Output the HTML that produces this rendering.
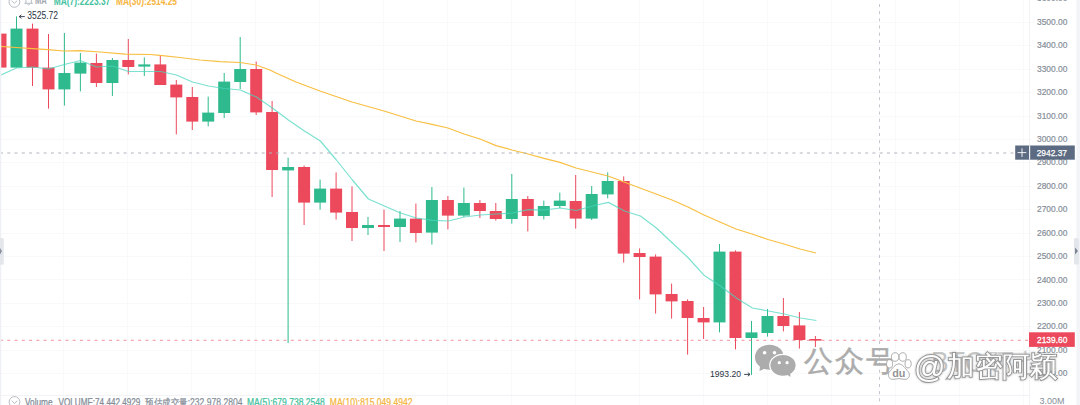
<!DOCTYPE html>
<html><head><meta charset="utf-8"><title>chart</title>
<style>
html,body{margin:0;padding:0;width:1080px;height:405px;overflow:hidden;background:#fff;font-family:"Liberation Sans",sans-serif;}
</style></head><body>
<svg width="1080" height="405" viewBox="0 0 1080 405" style="position:absolute;left:0;top:0" font-family="Liberation Sans, sans-serif"><defs><filter id="sh" x="-10%" y="-30%" width="120%" height="160%"><feGaussianBlur in="SourceAlpha" stdDeviation="1.1"/><feOffset dx="0.2" dy="0.4"/><feComponentTransfer><feFuncA type="linear" slope="0.3"/></feComponentTransfer><feMerge><feMergeNode/><feMergeNode in="SourceGraphic"/></feMerge></filter><filter id="sh2" x="-20%" y="-20%" width="140%" height="140%"><feGaussianBlur in="SourceAlpha" stdDeviation="0.6"/><feComponentTransfer><feFuncA type="linear" slope="0.3"/></feComponentTransfer><feMerge><feMergeNode/><feMergeNode in="SourceGraphic"/></feMerge></filter></defs><rect x="0" y="0" width="1080" height="405" fill="#ffffff"/><line x1="0" y1="-1.12" x2="1032" y2="-1.12" stroke="#f8f9fa" stroke-width="1" shape-rendering="crispEdges"/><line x1="0" y1="22.30" x2="1032" y2="22.30" stroke="#f8f9fa" stroke-width="1" shape-rendering="crispEdges"/><line x1="0" y1="45.73" x2="1032" y2="45.73" stroke="#f8f9fa" stroke-width="1" shape-rendering="crispEdges"/><line x1="0" y1="69.15" x2="1032" y2="69.15" stroke="#f8f9fa" stroke-width="1" shape-rendering="crispEdges"/><line x1="0" y1="92.58" x2="1032" y2="92.58" stroke="#f8f9fa" stroke-width="1" shape-rendering="crispEdges"/><line x1="0" y1="116.00" x2="1032" y2="116.00" stroke="#f8f9fa" stroke-width="1" shape-rendering="crispEdges"/><line x1="0" y1="139.43" x2="1032" y2="139.43" stroke="#f8f9fa" stroke-width="1" shape-rendering="crispEdges"/><line x1="0" y1="162.85" x2="1032" y2="162.85" stroke="#f8f9fa" stroke-width="1" shape-rendering="crispEdges"/><line x1="0" y1="186.28" x2="1032" y2="186.28" stroke="#f8f9fa" stroke-width="1" shape-rendering="crispEdges"/><line x1="0" y1="209.70" x2="1032" y2="209.70" stroke="#f8f9fa" stroke-width="1" shape-rendering="crispEdges"/><line x1="0" y1="233.13" x2="1032" y2="233.13" stroke="#f8f9fa" stroke-width="1" shape-rendering="crispEdges"/><line x1="0" y1="256.55" x2="1032" y2="256.55" stroke="#f8f9fa" stroke-width="1" shape-rendering="crispEdges"/><line x1="0" y1="279.98" x2="1032" y2="279.98" stroke="#f8f9fa" stroke-width="1" shape-rendering="crispEdges"/><line x1="0" y1="303.40" x2="1032" y2="303.40" stroke="#f8f9fa" stroke-width="1" shape-rendering="crispEdges"/><line x1="0" y1="326.83" x2="1032" y2="326.83" stroke="#f8f9fa" stroke-width="1" shape-rendering="crispEdges"/><line x1="0" y1="350.25" x2="1032" y2="350.25" stroke="#f8f9fa" stroke-width="1" shape-rendering="crispEdges"/><line x1="0" y1="373.68" x2="1032" y2="373.68" stroke="#f8f9fa" stroke-width="1" shape-rendering="crispEdges"/><line x1="63.95" y1="0" x2="63.95" y2="405" stroke="#f8f9fa" stroke-width="1" shape-rendering="crispEdges"/><line x1="127.90" y1="0" x2="127.90" y2="405" stroke="#f8f9fa" stroke-width="1" shape-rendering="crispEdges"/><line x1="191.85" y1="0" x2="191.85" y2="405" stroke="#f8f9fa" stroke-width="1" shape-rendering="crispEdges"/><line x1="255.80" y1="0" x2="255.80" y2="405" stroke="#f8f9fa" stroke-width="1" shape-rendering="crispEdges"/><line x1="319.75" y1="0" x2="319.75" y2="405" stroke="#f8f9fa" stroke-width="1" shape-rendering="crispEdges"/><line x1="383.70" y1="0" x2="383.70" y2="405" stroke="#f8f9fa" stroke-width="1" shape-rendering="crispEdges"/><line x1="447.65" y1="0" x2="447.65" y2="405" stroke="#f8f9fa" stroke-width="1" shape-rendering="crispEdges"/><line x1="511.60" y1="0" x2="511.60" y2="405" stroke="#f8f9fa" stroke-width="1" shape-rendering="crispEdges"/><line x1="575.55" y1="0" x2="575.55" y2="405" stroke="#f8f9fa" stroke-width="1" shape-rendering="crispEdges"/><line x1="639.50" y1="0" x2="639.50" y2="405" stroke="#f8f9fa" stroke-width="1" shape-rendering="crispEdges"/><line x1="703.45" y1="0" x2="703.45" y2="405" stroke="#f8f9fa" stroke-width="1" shape-rendering="crispEdges"/><line x1="767.40" y1="0" x2="767.40" y2="405" stroke="#f8f9fa" stroke-width="1" shape-rendering="crispEdges"/><line x1="831.35" y1="0" x2="831.35" y2="405" stroke="#f8f9fa" stroke-width="1" shape-rendering="crispEdges"/><line x1="895.30" y1="0" x2="895.30" y2="405" stroke="#f8f9fa" stroke-width="1" shape-rendering="crispEdges"/><line x1="959.25" y1="0" x2="959.25" y2="405" stroke="#f8f9fa" stroke-width="1" shape-rendering="crispEdges"/><line x1="1023.20" y1="0" x2="1023.20" y2="405" stroke="#f8f9fa" stroke-width="1" shape-rendering="crispEdges"/><line x1="0" y1="395.4" x2="1029" y2="395.4" stroke="#f1f2f5" stroke-width="1"/><line x1="1029.5" y1="0" x2="1029.5" y2="405" stroke="#f2f3f5" stroke-width="1" shape-rendering="crispEdges"/><g><line x1="0.5" y1="30" x2="0.5" y2="67.6" stroke="#ec4a5c" stroke-width="1"/><rect x="-5.5" y="33.6" width="12" height="34.0" fill="#ec4a5c"/><line x1="16.5" y1="16.4" x2="16.5" y2="67.6" stroke="#2eba8d" stroke-width="1"/><rect x="10.5" y="28.6" width="12" height="39.0" fill="#2eba8d"/><line x1="32.5" y1="23.6" x2="32.5" y2="86" stroke="#ec4a5c" stroke-width="1"/><rect x="26.5" y="28.6" width="12" height="39.0" fill="#ec4a5c"/><line x1="48.5" y1="34" x2="48.5" y2="108.6" stroke="#ec4a5c" stroke-width="1"/><rect x="42.5" y="67.6" width="12" height="21.8" fill="#ec4a5c"/><line x1="64.4" y1="33" x2="64.4" y2="105.6" stroke="#2eba8d" stroke-width="1"/><rect x="58.4" y="73" width="12" height="16.4" fill="#2eba8d"/><line x1="80.4" y1="53" x2="80.4" y2="91.4" stroke="#2eba8d" stroke-width="1"/><rect x="74.4" y="62.6" width="12" height="11.0" fill="#2eba8d"/><line x1="96.4" y1="53.6" x2="96.4" y2="87" stroke="#ec4a5c" stroke-width="1"/><rect x="90.4" y="63" width="12" height="20.0" fill="#ec4a5c"/><line x1="112.4" y1="58" x2="112.4" y2="96" stroke="#2eba8d" stroke-width="1"/><rect x="106.4" y="60" width="12" height="23.0" fill="#2eba8d"/><line x1="128.3" y1="39" x2="128.3" y2="74.4" stroke="#ec4a5c" stroke-width="1"/><rect x="122.3" y="60" width="12" height="7.0" fill="#ec4a5c"/><line x1="144.3" y1="57.4" x2="144.3" y2="76" stroke="#2eba8d" stroke-width="1"/><rect x="138.3" y="64.4" width="12" height="2.2" fill="#2eba8d"/><line x1="160.3" y1="55" x2="160.3" y2="85" stroke="#ec4a5c" stroke-width="1"/><rect x="154.3" y="64.4" width="12" height="20.6" fill="#ec4a5c"/><line x1="176.3" y1="80" x2="176.3" y2="134.4" stroke="#ec4a5c" stroke-width="1"/><rect x="170.3" y="84.6" width="12" height="12.8" fill="#ec4a5c"/><line x1="192.3" y1="87" x2="192.3" y2="130" stroke="#ec4a5c" stroke-width="1"/><rect x="186.3" y="97" width="12" height="24.6" fill="#ec4a5c"/><line x1="208.2" y1="96.6" x2="208.2" y2="126.4" stroke="#2eba8d" stroke-width="1"/><rect x="202.2" y="112.6" width="12" height="9.0" fill="#2eba8d"/><line x1="224.2" y1="73" x2="224.2" y2="118" stroke="#2eba8d" stroke-width="1"/><rect x="218.2" y="81.6" width="12" height="31.4" fill="#2eba8d"/><line x1="240.2" y1="37" x2="240.2" y2="89" stroke="#2eba8d" stroke-width="1"/><rect x="234.2" y="69" width="12" height="13.0" fill="#2eba8d"/><line x1="256.2" y1="61.6" x2="256.2" y2="115" stroke="#ec4a5c" stroke-width="1"/><rect x="250.2" y="69" width="12" height="43.4" fill="#ec4a5c"/><line x1="272.1" y1="101" x2="272.1" y2="197" stroke="#ec4a5c" stroke-width="1"/><rect x="266.1" y="112" width="12" height="58.0" fill="#ec4a5c"/><line x1="288.1" y1="157.6" x2="288.1" y2="343" stroke="#2eba8d" stroke-width="1"/><rect x="282.1" y="167" width="12" height="3.4" fill="#2eba8d"/><line x1="304.1" y1="165.6" x2="304.1" y2="225" stroke="#ec4a5c" stroke-width="1"/><rect x="298.1" y="167" width="12" height="35.6" fill="#ec4a5c"/><line x1="320.1" y1="179.6" x2="320.1" y2="209.6" stroke="#2eba8d" stroke-width="1"/><rect x="314.1" y="188.6" width="12" height="14.0" fill="#2eba8d"/><line x1="336.1" y1="172.4" x2="336.1" y2="219.6" stroke="#ec4a5c" stroke-width="1"/><rect x="330.1" y="188.6" width="12" height="24.0" fill="#ec4a5c"/><line x1="352.0" y1="186.4" x2="352.0" y2="241" stroke="#ec4a5c" stroke-width="1"/><rect x="346.0" y="212" width="12" height="16.0" fill="#ec4a5c"/><line x1="368.0" y1="217" x2="368.0" y2="235" stroke="#2eba8d" stroke-width="1"/><rect x="362.0" y="225" width="12" height="3.0" fill="#2eba8d"/><line x1="384.0" y1="209.6" x2="384.0" y2="251" stroke="#ec4a5c" stroke-width="1"/><rect x="378.0" y="225" width="12" height="2.0" fill="#ec4a5c"/><line x1="400.0" y1="211" x2="400.0" y2="242" stroke="#2eba8d" stroke-width="1"/><rect x="394.0" y="218.6" width="12" height="8.4" fill="#2eba8d"/><line x1="415.9" y1="203.6" x2="415.9" y2="242.4" stroke="#ec4a5c" stroke-width="1"/><rect x="409.9" y="218.6" width="12" height="14.4" fill="#ec4a5c"/><line x1="431.9" y1="187" x2="431.9" y2="244.6" stroke="#2eba8d" stroke-width="1"/><rect x="425.9" y="200" width="12" height="32.6" fill="#2eba8d"/><line x1="447.9" y1="196" x2="447.9" y2="229.4" stroke="#ec4a5c" stroke-width="1"/><rect x="441.9" y="200" width="12" height="15.6" fill="#ec4a5c"/><line x1="463.9" y1="187.6" x2="463.9" y2="217" stroke="#2eba8d" stroke-width="1"/><rect x="457.9" y="203" width="12" height="12.6" fill="#2eba8d"/><line x1="479.9" y1="200" x2="479.9" y2="218" stroke="#ec4a5c" stroke-width="1"/><rect x="473.9" y="203" width="12" height="8.0" fill="#ec4a5c"/><line x1="495.8" y1="203" x2="495.8" y2="220.6" stroke="#ec4a5c" stroke-width="1"/><rect x="489.8" y="211" width="12" height="8.0" fill="#ec4a5c"/><line x1="511.8" y1="174" x2="511.8" y2="223.6" stroke="#2eba8d" stroke-width="1"/><rect x="505.8" y="199" width="12" height="20.0" fill="#2eba8d"/><line x1="527.8" y1="196" x2="527.8" y2="231.4" stroke="#ec4a5c" stroke-width="1"/><rect x="521.8" y="199" width="12" height="17.0" fill="#ec4a5c"/><line x1="543.8" y1="200.6" x2="543.8" y2="219.4" stroke="#2eba8d" stroke-width="1"/><rect x="537.8" y="206" width="12" height="10.0" fill="#2eba8d"/><line x1="559.8" y1="192.6" x2="559.8" y2="208" stroke="#2eba8d" stroke-width="1"/><rect x="553.8" y="200.6" width="12" height="5.4" fill="#2eba8d"/><line x1="575.7" y1="175" x2="575.7" y2="228.6" stroke="#ec4a5c" stroke-width="1"/><rect x="569.7" y="201" width="12" height="17.6" fill="#ec4a5c"/><line x1="591.7" y1="186" x2="591.7" y2="220" stroke="#2eba8d" stroke-width="1"/><rect x="585.7" y="194" width="12" height="24.6" fill="#2eba8d"/><line x1="607.7" y1="172.4" x2="607.7" y2="198.4" stroke="#2eba8d" stroke-width="1"/><rect x="601.7" y="181" width="12" height="13.4" fill="#2eba8d"/><line x1="623.7" y1="176.4" x2="623.7" y2="262.6" stroke="#ec4a5c" stroke-width="1"/><rect x="617.7" y="181" width="12" height="72.6" fill="#ec4a5c"/><line x1="639.6" y1="248.4" x2="639.6" y2="299.4" stroke="#ec4a5c" stroke-width="1"/><rect x="633.6" y="253" width="12" height="4.0" fill="#ec4a5c"/><line x1="655.6" y1="254.4" x2="655.6" y2="313.6" stroke="#ec4a5c" stroke-width="1"/><rect x="649.6" y="256.6" width="12" height="37.8" fill="#ec4a5c"/><line x1="671.6" y1="283.6" x2="671.6" y2="318.6" stroke="#ec4a5c" stroke-width="1"/><rect x="665.6" y="294" width="12" height="7.4" fill="#ec4a5c"/><line x1="687.6" y1="299.4" x2="687.6" y2="354.6" stroke="#ec4a5c" stroke-width="1"/><rect x="681.6" y="301" width="12" height="17.0" fill="#ec4a5c"/><line x1="703.6" y1="307" x2="703.6" y2="339" stroke="#ec4a5c" stroke-width="1"/><rect x="697.6" y="318" width="12" height="4.4" fill="#ec4a5c"/><line x1="719.5" y1="244" x2="719.5" y2="332.4" stroke="#2eba8d" stroke-width="1"/><rect x="713.5" y="251.6" width="12" height="70.8" fill="#2eba8d"/><line x1="735.5" y1="250.4" x2="735.5" y2="349.4" stroke="#ec4a5c" stroke-width="1"/><rect x="729.5" y="251.6" width="12" height="86.4" fill="#ec4a5c"/><line x1="751.5" y1="321" x2="751.5" y2="374.8" stroke="#2eba8d" stroke-width="1"/><rect x="745.5" y="332.4" width="12" height="5.6" fill="#2eba8d"/><line x1="767.5" y1="309" x2="767.5" y2="336.6" stroke="#2eba8d" stroke-width="1"/><rect x="761.5" y="316" width="12" height="17.0" fill="#2eba8d"/><line x1="783.4" y1="298" x2="783.4" y2="331.4" stroke="#ec4a5c" stroke-width="1"/><rect x="777.4" y="316" width="12" height="10.0" fill="#ec4a5c"/><line x1="799.4" y1="312" x2="799.4" y2="348.6" stroke="#ec4a5c" stroke-width="1"/><rect x="793.4" y="325.4" width="12" height="14.6" fill="#ec4a5c"/><line x1="815.4" y1="336" x2="815.4" y2="347" stroke="#ec4a5c" stroke-width="1"/><rect x="809.4" y="339" width="12" height="1.6" fill="#ec4a5c"/></g><polyline points="0.0,46.3 16.0,47.5 32.5,48.7 48.0,49.6 64.0,51.0 80.0,50.6 100.0,52.0 125.0,54.2 150.0,54.5 160.0,55.3 180.0,57.5 200.0,60.0 220.0,61.7 240.0,62.5 256.0,65.0 270.0,70.0 276.0,73.0 296.0,82.0 320.0,91.0 352.0,102.0 384.0,111.0 416.0,121.0 432.0,124.4 448.0,128.0 464.0,134.0 480.0,139.0 496.0,145.6 512.0,150.0 528.0,154.0 544.0,158.4 560.0,162.4 576.0,168.0 592.0,172.0 608.0,176.0 624.0,182.0 640.0,188.0 656.0,194.0 672.0,200.0 688.0,207.0 704.0,215.0 720.0,222.0 736.0,229.0 752.0,234.0 768.0,239.5 784.0,244.0 800.0,249.0 816.0,253.0" fill="none" stroke="#f8bf42" stroke-opacity="1" stroke-width="1.2" stroke-linejoin="round"/><polyline points="0.0,75.5 16.4,68.0 32.4,67.0 48.4,69.0 64.4,64.5 80.4,60.5 96.4,67.0 112.4,66.0 128.4,71.5 144.4,71.5 160.4,71.5 176.4,75.0 192.4,82.0 208.4,86.0 224.4,88.5 240.4,90.0 256.4,97.0 272.4,108.0 288.4,120.0 304.4,131.0 320.4,141.0 336.4,160.0 352.4,180.0 368.4,199.0 384.4,206.0 400.4,213.0 416.4,218.0 432.4,220.4 448.4,221.0 464.4,217.0 480.4,215.0 496.4,214.0 512.4,213.0 528.4,209.6 544.4,210.0 560.4,208.0 576.4,210.5 592.4,206.0 608.4,202.4 624.4,211.0 640.4,216.0 656.4,228.0 672.4,243.0 688.4,258.0 704.4,275.6 720.4,286.0 736.4,298.0 752.4,308.0 768.4,311.0 784.4,314.0 800.4,318.0 816.4,320.5" fill="none" stroke="#48d6be" stroke-opacity="0.72" stroke-width="1.2" stroke-linejoin="round"/><line x1="0" y1="153" x2="1015" y2="153" stroke="#afb4bd" stroke-width="1" stroke-dasharray="3 4.27"/><line x1="879.5" y1="4" x2="879.5" y2="405" stroke="#c2c6ce" stroke-width="1" stroke-dasharray="3 4.17"/><line x1="0" y1="340.3" x2="1029" y2="340.3" stroke="#ec4a5c" stroke-opacity="0.6" stroke-width="1" stroke-dasharray="3 4.27"/><rect x="0" y="0" width="1.3" height="405" fill="#eef0f4"/><rect x="-3" y="238" width="6.8" height="26.8" rx="1.5" fill="#e4e7ec"/><path d="M0,248 L2,251.3 L0,254.6 Z" fill="#8a929f"/><rect x="1076.5" y="0" width="3.5" height="405" fill="#f3f4f7"/><rect x="1073.9" y="238" width="5" height="26.4" rx="1.5" fill="#e3e6eb"/><path d="M1075,247.5 L1078,251 L1075,254.5 Z" fill="#7d8593"/><text x="1037" y="1.48" font-size="9.4px" fill="#868d98" stroke="#868d98" stroke-width="0.2" textLength="30.4" lengthAdjust="spacingAndGlyphs">3600.00</text><text x="1037" y="24.90" font-size="9.4px" fill="#868d98" stroke="#868d98" stroke-width="0.2" textLength="30.4" lengthAdjust="spacingAndGlyphs">3500.00</text><text x="1037" y="48.33" font-size="9.4px" fill="#868d98" stroke="#868d98" stroke-width="0.2" textLength="30.4" lengthAdjust="spacingAndGlyphs">3400.00</text><text x="1037" y="71.75" font-size="9.4px" fill="#868d98" stroke="#868d98" stroke-width="0.2" textLength="30.4" lengthAdjust="spacingAndGlyphs">3300.00</text><text x="1037" y="95.17" font-size="9.4px" fill="#868d98" stroke="#868d98" stroke-width="0.2" textLength="30.4" lengthAdjust="spacingAndGlyphs">3200.00</text><text x="1037" y="118.60" font-size="9.4px" fill="#868d98" stroke="#868d98" stroke-width="0.2" textLength="30.4" lengthAdjust="spacingAndGlyphs">3100.00</text><text x="1037" y="142.03" font-size="9.4px" fill="#868d98" stroke="#868d98" stroke-width="0.2" textLength="30.4" lengthAdjust="spacingAndGlyphs">3000.00</text><text x="1037" y="165.45" font-size="9.4px" fill="#868d98" stroke="#868d98" stroke-width="0.2" textLength="30.4" lengthAdjust="spacingAndGlyphs">2900.00</text><text x="1037" y="188.88" font-size="9.4px" fill="#868d98" stroke="#868d98" stroke-width="0.2" textLength="30.4" lengthAdjust="spacingAndGlyphs">2800.00</text><text x="1037" y="212.30" font-size="9.4px" fill="#868d98" stroke="#868d98" stroke-width="0.2" textLength="30.4" lengthAdjust="spacingAndGlyphs">2700.00</text><text x="1037" y="235.73" font-size="9.4px" fill="#868d98" stroke="#868d98" stroke-width="0.2" textLength="30.4" lengthAdjust="spacingAndGlyphs">2600.00</text><text x="1037" y="259.15" font-size="9.4px" fill="#868d98" stroke="#868d98" stroke-width="0.2" textLength="30.4" lengthAdjust="spacingAndGlyphs">2500.00</text><text x="1037" y="282.58" font-size="9.4px" fill="#868d98" stroke="#868d98" stroke-width="0.2" textLength="30.4" lengthAdjust="spacingAndGlyphs">2400.00</text><text x="1037" y="306.00" font-size="9.4px" fill="#868d98" stroke="#868d98" stroke-width="0.2" textLength="30.4" lengthAdjust="spacingAndGlyphs">2300.00</text><text x="1037" y="329.43" font-size="9.4px" fill="#868d98" stroke="#868d98" stroke-width="0.2" textLength="30.4" lengthAdjust="spacingAndGlyphs">2200.00</text><text x="1037" y="352.85" font-size="9.4px" fill="#868d98" stroke="#868d98" stroke-width="0.2" textLength="30.4" lengthAdjust="spacingAndGlyphs">2100.00</text><text x="1037" y="376.28" font-size="9.4px" fill="#868d98" stroke="#868d98" stroke-width="0.2" textLength="30.4" lengthAdjust="spacingAndGlyphs">2000.00</text><text x="1039.5" y="403.5" font-size="9px" fill="#868d98" textLength="25" lengthAdjust="spacingAndGlyphs">3.00M</text><rect x="1015.2" y="145.5" width="59.6" height="14.2" fill="#5c6b82"/><rect x="1029" y="145.5" width="1.2" height="14.2" fill="#ffffff" fill-opacity="0.9"/><path d="M1022,148.3 V157 M1017.6,152.6 H1026.3" stroke="#ffffff" stroke-width="0.9"/><text x="1036.7" y="155.7" font-size="9.5px" fill="#ffffff" stroke="#ffffff" stroke-width="0.25" textLength="30.3" lengthAdjust="spacingAndGlyphs">2942.37</text><rect x="1029" y="332.3" width="45.8" height="14.6" fill="#ec4a5c"/><text x="1037" y="343.2" font-size="9.6px" fill="#ffffff" stroke="#ffffff" stroke-width="0.3" textLength="30.4" lengthAdjust="spacingAndGlyphs">2139.60</text><circle cx="14.4" cy="1.9" r="5.4" fill="none" stroke="#aeb4bd" stroke-width="0.9"/><path d="M11.6,0.6 L14.4,3.3 L17.2,0.6" fill="none" stroke="#aeb4bd" stroke-width="0.9"/><path d="M24.4,3.3 H32.8 M25.9,3.3 V0 M31.3,3.3 V0 M27.5,4.4 Q28.6,5.8 29.7,4.4" fill="none" stroke="#aeb4bd" stroke-width="0.9"/><text x="35" y="4.2" font-size="10px" font-weight="bold" fill="#a2a8b1" textLength="11.8" lengthAdjust="spacingAndGlyphs">MA</text><text x="53.7" y="4.9" font-size="10px" font-weight="bold" fill="#45c2a0" textLength="56.6" lengthAdjust="spacingAndGlyphs">MA(7):2223.37</text><text x="116" y="4.9" font-size="10px" font-weight="bold" fill="#f6b540" textLength="61" lengthAdjust="spacingAndGlyphs">MA(30):2514.25</text><path d="M19.2,16.6 H24.8 M19.2,16.6 L21.4,14.8 M19.2,16.6 L21.4,18.4" stroke="#2b3444" stroke-width="0.9" fill="none"/><text x="27.3" y="19" font-size="10px" fill="#2b3444" textLength="30.8" lengthAdjust="spacingAndGlyphs">3525.72</text><text x="710" y="376.7" font-size="9.6px" fill="#2b3444" textLength="31.1" lengthAdjust="spacingAndGlyphs">1993.20</text><path d="M744.2,374.4 H750 M750,374.4 L747.8,372.6 M750,374.4 L747.8,376.2" stroke="#2b3444" stroke-width="0.9" fill="none"/><circle cx="14.5" cy="402" r="5.4" fill="none" stroke="#aeb4bd" stroke-width="0.9"/><path d="M11.7,400.8 L14.5,403.5 L17.3,400.8" fill="none" stroke="#aeb4bd" stroke-width="0.9"/><text x="25" y="406" font-size="10px" fill="#858c97" stroke="#858c97" stroke-width="0.25" textLength="27.5" lengthAdjust="spacingAndGlyphs">Volume</text><text x="58.5" y="406" font-size="10px" fill="#858c97" stroke="#858c97" stroke-width="0.25" textLength="81.8" lengthAdjust="spacingAndGlyphs">VOLUME:74,442.4929</text><text x="145" y="406" font-size="10px" fill="#858c97" stroke="#858c97" stroke-width="0.2" textLength="97.4" lengthAdjust="spacingAndGlyphs">预估成交量:232,978.2804</text><text x="247" y="406" font-size="10px" fill="#45c2a0" stroke="#45c2a0" stroke-width="0.25" textLength="77.7" lengthAdjust="spacingAndGlyphs">MA(5):679,738.2548</text><text x="329.8" y="406" font-size="10px" fill="#f6b540" stroke="#f6b540" stroke-width="0.25" textLength="82.6" lengthAdjust="spacingAndGlyphs">MA(10):815,049.4942</text><g><ellipse cx="769.4" cy="357.2" rx="14.4" ry="12.5" fill="#acacac"/><path d="M760,366 L759.5,371 L766,368 Z" fill="#acacac"/><ellipse cx="783" cy="365.3" rx="13.8" ry="11.6" fill="#ffffff"/><ellipse cx="783" cy="365.3" rx="12.6" ry="10.4" fill="#acacac"/><path d="M786,374 L790.5,377 L790,371 Z" fill="#acacac"/><circle cx="764.6" cy="352.7" r="1.8" fill="#fff"/><circle cx="774.5" cy="352.7" r="1.8" fill="#fff"/><circle cx="779.3" cy="362.7" r="1.6" fill="#fff"/><circle cx="787.1" cy="362.7" r="1.6" fill="#fff"/><text y="371" font-size="29px" fill="#acacac" stroke="#acacac" stroke-width="0.5"><tspan x="804.3">公</tspan><tspan x="835.4">众</tspan><tspan x="866">号</tspan></text><text x="931" y="372" font-size="30px" fill="#a3a3a3" fill-opacity="0.65" textLength="53" lengthAdjust="spacingAndGlyphs">BTC</text><text x="988" y="372" font-size="26px" fill="#a3a3a3" fill-opacity="0.55">阿七</text><g filter="url(#sh2)"><ellipse cx="895.1" cy="357" rx="3.7" ry="4.2" fill="#fff" stroke="#a8a8a8" stroke-width="0.8"/><ellipse cx="902.7" cy="357" rx="3.6" ry="4.2" fill="#fff" stroke="#a8a8a8" stroke-width="0.8"/><ellipse cx="889.6" cy="363.8" rx="3" ry="4.1" fill="#fff" stroke="#a8a8a8" stroke-width="0.8"/><ellipse cx="908.1" cy="363.8" rx="3" ry="4.1" fill="#fff" stroke="#a8a8a8" stroke-width="0.8"/><path d="M898.9,364 C902.5,364 905.5,368.5 908,371.5 C910.5,374.5 909.5,379.3 904.8,379.3 C902.5,379.3 900.8,378.6 898.9,378.6 C897,378.6 895.3,379.3 893,379.3 C888.3,379.3 887.3,374.5 889.8,371.5 C892.3,368.5 895.3,364 898.9,364 Z" fill="#fff" stroke="#a8a8a8" stroke-width="0.8"/></g><text x="892.2" y="376.6" font-size="10.8px" font-weight="bold" fill="#959595" textLength="13.2" lengthAdjust="spacingAndGlyphs">du</text><g filter="url(#sh)"><text x="914" y="378.3" font-size="31px" fill="#ffffff" stroke="#969696" stroke-width="1.9" paint-order="stroke">@</text><text x="947" y="376.2" font-size="27.6px" fill="#ffffff" stroke="#969696" stroke-width="1.9" paint-order="stroke" textLength="110.5" lengthAdjust="spacingAndGlyphs">加密阿颖</text></g></g></svg>
</body></html>
